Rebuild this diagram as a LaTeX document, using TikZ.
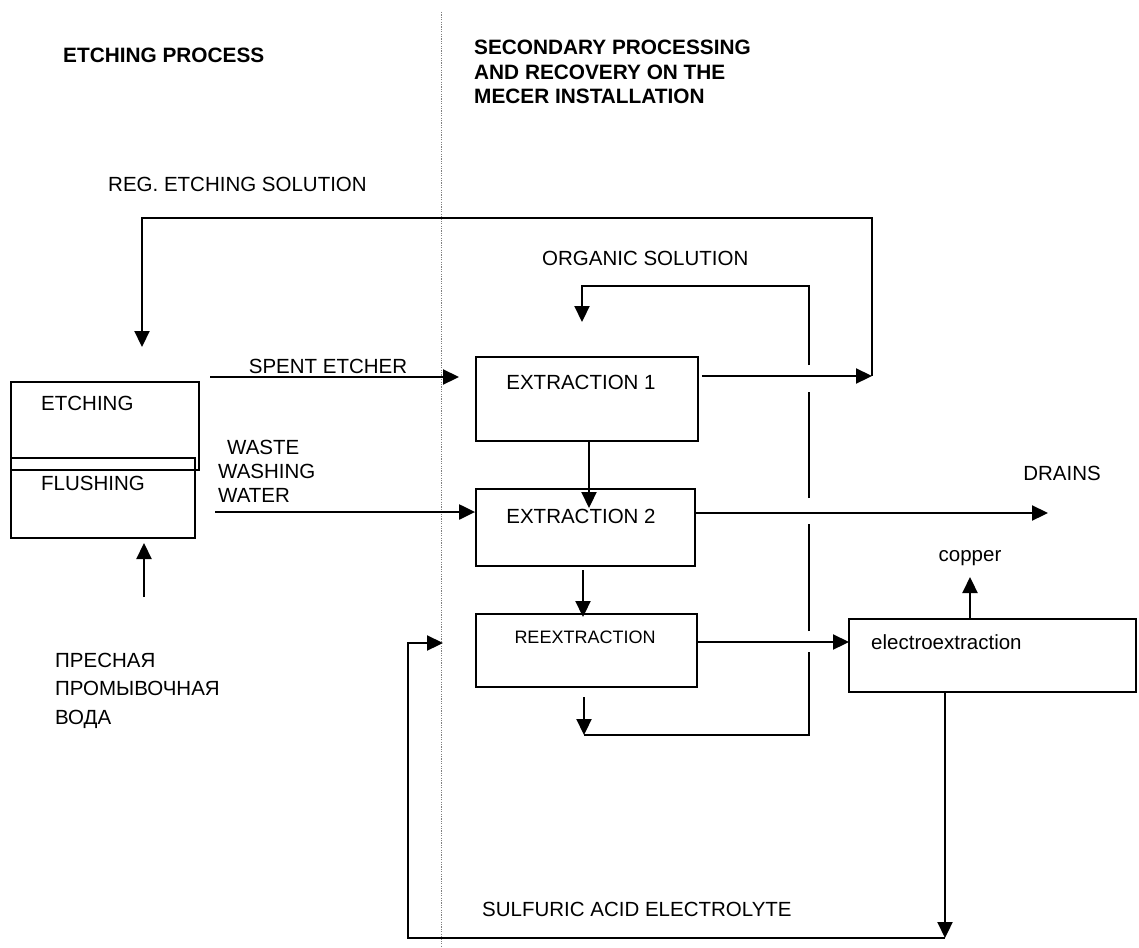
\documentclass[tikz,border=0pt]{standalone}
\usepackage{fontspec}
\setmainfont{Liberation Sans}
\usetikzlibrary{arrows.meta}
\begin{document}
\begin{tikzpicture}[x=1pt,y=-1pt,
  box/.style={draw, line width=1.8pt, inner sep=0pt},
  txt/.style={inner sep=0pt, font=\fontsize{20.5}{24.5}\selectfont},
  smalltxt/.style={inner sep=0pt, font=\fontsize{18}{22}\selectfont},
  headtxt/.style={inner sep=0pt, align=left, font=\fontsize{20.8}{24.5}\selectfont\bfseries},
  flow/.style={line width=2.2pt, -{Triangle[length=16pt,width=15pt]}},
  pipe/.style={line width=2.2pt},
  divider/.style={draw=gray, line width=0.7pt, dash pattern=on 1.2pt off 1.2pt}]
\fill[white] (0,0) rectangle (1139,947);
\useasboundingbox (0,0) rectangle (1139,947);

% divider
\coordinate (dv0) at (441,12);
\coordinate (dv1) at (441,947);
\draw[divider] (dv0) -- (dv1);

% headers
\node[headtxt, anchor=west] (h1) at (63,55) {ETCHING PROCESS};
\node[headtxt, anchor=north west] (h2) at (474,40) {SECONDARY PROCESSING\\AND RECOVERY ON THE\\MECER INSTALLATION};

% boxes
\node[box, minimum width=188pt, minimum height=88pt] (etch) at (105,426) {};
\node[box, minimum width=184pt, minimum height=80pt] (flush) at (103,498) {};
\node[box, minimum width=222pt, minimum height=84pt] (ex1) at (587,399) {};
\node[box, minimum width=219pt, minimum height=77pt] (ex2) at (585.5,527.5) {};
\node[box, minimum width=221pt, minimum height=73pt] (reex) at (586.5,650.5) {};
\node[box, minimum width=287pt, minimum height=73pt] (elec) at (992.5,655.5) {};

% box labels
\node[txt, anchor=west] (etcht) at (41,403) {ETCHING};
\node[txt, anchor=west] (flusht) at (41,483) {FLUSHING};
\node[txt] (ex1t) at (581,382) {EXTRACTION 1};
\node[txt] (ex2t) at (581,516) {EXTRACTION 2};
\node[smalltxt] (reext) at (585,637) {REEXTRACTION};
\node[txt, anchor=west] (elect) at (871,642) {electroextraction};

% flow labels
\node[txt, anchor=west] (regt) at (108,184) {REG. ETCHING SOLUTION};
\node[txt, anchor=west] (orgt) at (542,258) {ORGANIC SOLUTION};
\node[txt] (spentt) at (328,366) {SPENT ETCHER};
\node[txt, anchor=north west, align=left, font=\fontsize{20.5}{24}\selectfont] (wastet) at (218,440) {\hspace*{9pt}WASTE\\WASHING\\WATER};
\node[txt, anchor=center] (drainst) at (1062,473) {DRAINS};
\node[txt, anchor=base] (coppert) at (970,561) {copper};
\node[txt, anchor=west] (sulft) at (482,909) {SULFURIC ACID ELECTROLYTE};
\node[txt, anchor=north west, align=left, font=\fontsize{20.5}{28.5}\selectfont] (freshwt) at (55,652.5) {ПРЕСНАЯ\\ПРОМЫВОЧНАЯ\\ВОДА};

% spent etcher
\coordinate (se0) at (210,377);
\coordinate (se1) at (459,377);
\draw[flow] (se0) -- (se1);

% waste washing water
\coordinate (ww0) at (215,512);
\draw[flow] (ww0) -- (ww0 -| ex2.west);

% fresh water
\coordinate (fw0) at (144,597);
\coordinate (fw1) at (144,543);
\draw[flow] (fw0) -- (fw1);

% regenerated etching solution loop
\coordinate (r0) at (872,376);
\coordinate (rt) at (142,218);
\coordinate (rb) at (142,347);
\draw[flow] ([xshift=3pt]ex1.east |- r0) -- (r0);
\draw[flow] (r0) |- (rt) -- (rb);

% extraction chain
\coordinate (a12) at (589,508);
\draw[flow] (ex1.south -| a12) -- (a12);
\coordinate (b0) at (583,570);
\coordinate (b1) at (583,617);
\draw[flow] (b0) -- (b1);

% drains
\coordinate (dr) at (1048,513);
\draw[flow] (ex2.east |- dr) -- (dr);

% reextraction -> electroextraction
\coordinate (c0) at (849,642);
\draw[flow] (reex.east |- c0) -- (c0);

% organic solution loop
\coordinate (o0) at (584,697);
\coordinate (o1) at (584,735);
\coordinate (o2) at (809,735);
\coordinate (g1) at (809,652);
\coordinate (g2) at (809,631);
\coordinate (g3) at (809,524);
\coordinate (g4) at (809,498);
\coordinate (g5) at (809,392);
\coordinate (g6) at (809,365);
\coordinate (o3) at (809,286);
\coordinate (o4) at (582,286);
\coordinate (o5) at (582,322);
\draw[flow] (o0) -- (o1);
\draw[pipe] (o1) -- (o2) -- (g1);
\draw[pipe] (g2) -- (g3);
\draw[pipe] (g4) -- (g5);
\draw[flow] (g6) -- (o3) -- (o4) -- (o5);

% copper
\coordinate (cu) at (970,577);
\draw[flow] (elec.north -| cu) -- (cu);

% sulfuric acid electrolyte loop
\coordinate (e1) at (945,938);
\coordinate (s0) at (408,938);
\coordinate (s1) at (408,643);
\coordinate (s2) at (443,643);
\draw[flow] (elec.south -| e1) -- (e1);
\draw[flow] (e1) -- (s0) -- (s1) -- (s2);
\end{tikzpicture}
\end{document}
